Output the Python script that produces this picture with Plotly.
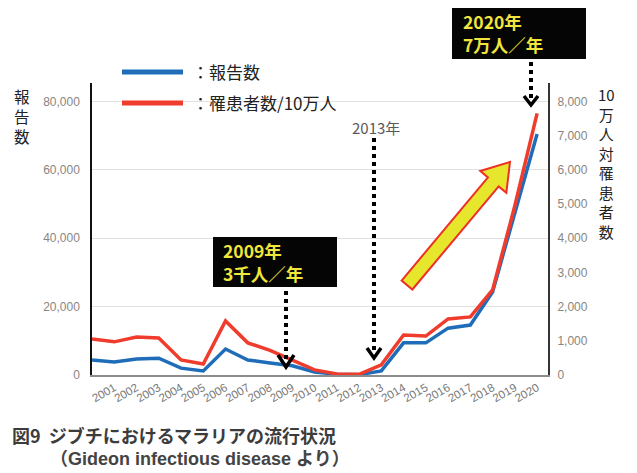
import numpy as np
import plotly.graph_objects as go

# ---- data ----
years = list(range(2000, 2021))
tick_years = list(range(2001, 2021))
tick_labels = [str(y) for y in tick_years]
reports = [4400, 3800, 4700, 4900, 2000, 1200, 7600, 4400, 3500, 2700, 900,
           200, 100, 1200, 9400, 9400, 13700, 14600, 24300, 47000, 70500]
incidence = [1050, 970, 1110, 1080, 440, 320, 1580, 940, 720, 440, 150,
             30, 20, 300, 1170, 1140, 1640, 1700, 2490, 4950, 7650]
left_ticks = [0, 20000, 40000, 60000, 80000]
left_tick_text = ["0", "20,000", "40,000", "60,000", "80,000"]
right_ticks = [0, 1000, 2000, 3000, 4000, 5000, 6000, 7000, 8000]
right_tick_text = ["0", "1,000", "2,000", "3,000", "4,000", "5,000", "6,000", "7,000", "8,000"]

W, H = 637, 473
L, R, T, B = 92, 548, 83, 375

def X(px):
    return (px - L) / (R - L)

def Y(py):
    return (B - py) / (B - T)

BLUE = "#1f6db8"
RED = "#f03c2c"
CJK = "Noto Sans CJK JP"
TICKFONT = dict(family="Liberation Sans", size=12, color="#8a8580")

fig = go.Figure()
fig.add_trace(go.Scatter(x=years, y=reports, mode="lines",
                         line=dict(color=BLUE, width=3.5), name="報告数"))
fig.add_trace(go.Scatter(x=years, y=incidence, mode="lines", yaxis="y2",
                         line=dict(color=RED, width=3.5), name="罹患者数/10万人"))

shapes = []
annotations = []

# legend
for py, col, txt in [(72, BLUE, "：報告数"), (103, RED, "：罹患者数/10万人")]:
    shapes.append(dict(type="line", xref="paper", yref="paper",
                       x0=X(122), x1=X(183), y0=Y(py), y1=Y(py),
                       line=dict(color=col, width=5)))
    annotations.append(dict(xref="paper", yref="paper", x=X(190), y=Y(py - 1),
                            xanchor="left", yanchor="middle", showarrow=False,
                            text=txt, font=dict(family=CJK, size=17, color="#222")))

# axis titles (vertical stacks)
annotations.append(dict(xref="paper", yref="paper", x=X(22), y=Y(116),
                        xanchor="center", yanchor="middle", showarrow=False,
                        text="報<br>告<br>数", font=dict(family=CJK, size=15.5, color="#222")))
annotations.append(dict(xref="paper", yref="paper", x=X(606), y=Y(163),
                        xanchor="center", yanchor="middle", showarrow=False,
                        text="10<br>万<br>人<br>対<br>罹<br>患<br>者<br>数",
                        font=dict(family=CJK, size=15, color="#222")))

# black boxes with yellow text
for (x0, y0, x1, y1, tx, lines) in [
        (213, 237, 337, 287, 221, ["2009年", "3千人／年"]),
        (452, 8, 586, 59, 461, ["2020年", "7万人／年"])]:
    shapes.append(dict(type="rect", xref="paper", yref="paper",
                       x0=X(x0), x1=X(x1), y0=Y(y0), y1=Y(y1),
                       fillcolor="#050505", line=dict(width=0)))
    yc = (y0 + y1) / 2
    for k, txt in enumerate(lines):
        annotations.append(dict(xref="paper", yref="paper", x=X(tx),
                                y=Y(yc - 11.5 + 23 * k),
                                xanchor="left", yanchor="middle", showarrow=False,
                                text=txt, font=dict(family=CJK, size=17.5, color="#f0e63c",
                                                    weight="bold")))

# 2013 label
annotations.append(dict(xref="paper", yref="paper", x=X(376), y=Y(128),
                        xanchor="center", yanchor="middle", showarrow=False,
                        text="2013年", font=dict(family=CJK, size=15, color="#5a5a5a")))

# dotted arrows
for (ax, ytop, ytip, hw, hh) in [(286, 291, 367, 8, 12), (374, 138, 358, 7, 10),
                                 (531, 62, 105, 7, 9)]:
    shapes.append(dict(type="line", xref="paper", yref="paper",
                       x0=X(ax), x1=X(ax), y0=Y(ytop), y1=Y(ytip - 4),
                       line=dict(color="black", width=4, dash="dot")))
    path = "M {:.5f},{:.5f} L {:.5f},{:.5f} L {:.5f},{:.5f}".format(
        X(ax - hw), Y(ytip - hh), X(ax), Y(ytip), X(ax + hw), Y(ytip - hh))
    shapes.append(dict(type="path", xref="paper", yref="paper", path=path,
                       line=dict(color="black", width=3.5)))

# big yellow arrow
Tp = np.array([407.0, 285.0])
Hp = np.array([510.0, 162.0])
u = (Hp - Tp) / np.linalg.norm(Hp - Tp)
n = np.array([-u[1], u[0]])
sw, hwid, hl = 7.0, 17.0, 26.0
Bp = Hp - hl * u
pts = [Tp + sw * n, Bp + sw * n, Bp + hwid * n, Hp, Bp - hwid * n, Bp - sw * n, Tp - sw * n]
path = "M " + " L ".join("{:.5f},{:.5f}".format(X(p[0]), Y(p[1])) for p in pts) + " Z"
shapes.append(dict(type="path", xref="paper", yref="paper", path=path,
                   fillcolor="#e6e62c", line=dict(color="#ec3028", width=2)))

# caption
annotations.append(dict(xref="paper", yref="paper", x=X(10), y=Y(435),
                        xanchor="left", yanchor="middle", showarrow=False,
                        text="図9  ジブチにおけるマラリアの流行状況",
                        font=dict(family=CJK, size=18, color="#3c3c3c", weight="bold")))
annotations.append(dict(xref="paper", yref="paper", x=X(48), y=Y(459),
                        xanchor="left", yanchor="middle", showarrow=False,
                        text="（Gideon infectious disease より）",
                        font=dict(family="Liberation Sans, Noto Sans CJK JP", size=18,
                                  color="#444", weight="bold")))

fig.update_layout(
    width=W, height=H,
    margin=dict(l=L, r=W - R, t=T, b=H - B, pad=0),
    paper_bgcolor="white", plot_bgcolor="white",
    showlegend=False,
    xaxis=dict(range=[2000, 2020.49], tickvals=tick_years, ticktext=tick_labels,
               tickangle=-30, showgrid=False, zeroline=False, showline=True,
               linecolor="#8c8c8c", linewidth=1.5, ticks="",
               tickfont=dict(family="Liberation Sans", size=11.5, color="#777")),
    yaxis=dict(range=[0, 85411], tickvals=left_ticks, ticktext=left_tick_text,
               showgrid=True, gridcolor="#e2e2e2", gridwidth=1, zeroline=False,
               showline=True, linecolor="#111", linewidth=1.5,
               ticks="outside", ticklen=8, tickcolor="rgba(0,0,0,0)", tickfont=TICKFONT),
    yaxis2=dict(range=[0, 8541], tickvals=right_ticks, ticktext=right_tick_text,
                overlaying="y", side="right", showgrid=False, zeroline=False,
                showline=True, linecolor="#333", linewidth=2,
                ticks="outside", ticklen=5, tickcolor="rgba(0,0,0,0)", tickfont=TICKFONT),
    shapes=shapes, annotations=annotations,
)

fig.write_html("out.html")
